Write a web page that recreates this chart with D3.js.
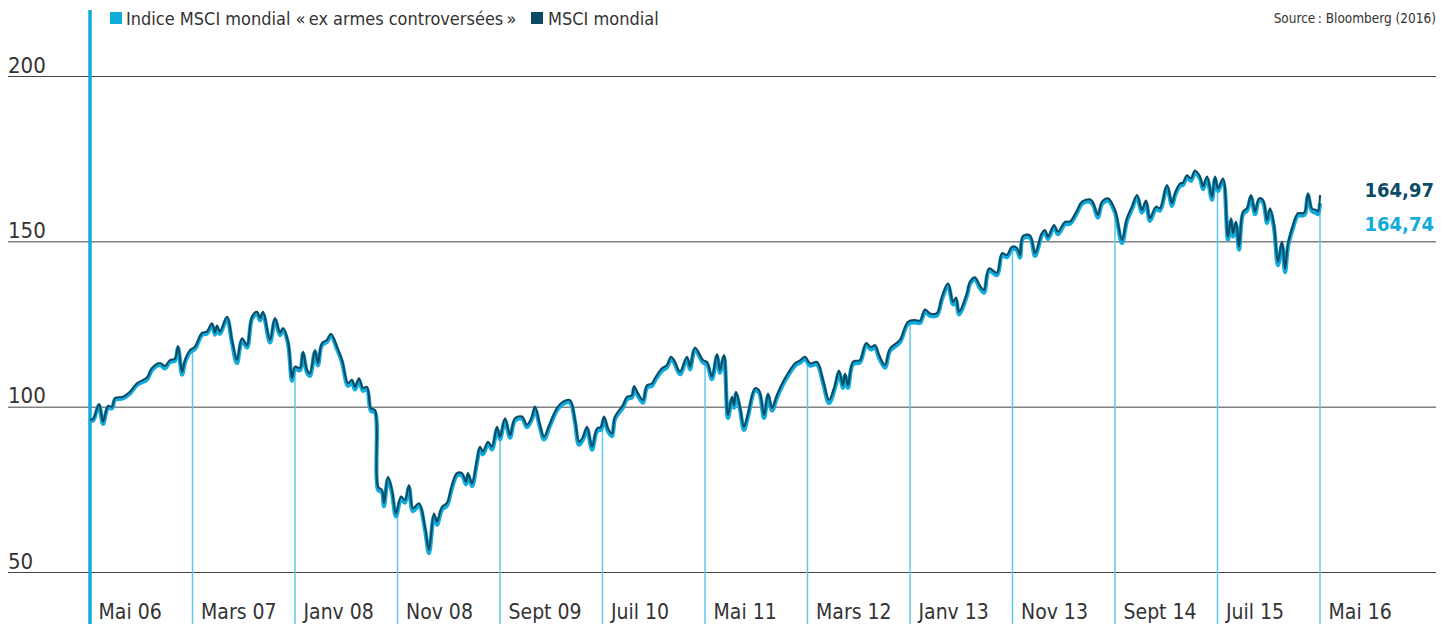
<!DOCTYPE html>
<html>
<head>
<meta charset="utf-8">
<script src="https://cdn.jsdelivr.net/npm/d3@7"></script>
<style>
  html, body { margin: 0; padding: 0; background: #fff; }
  svg { display: block; }
  text { font-family: "DejaVu Sans Condensed", "Liberation Sans Narrow", Roboto, sans-serif; fill: #333; }
</style>
</head>
<body>
<svg id="chart" width="1449" height="624"></svg>
<script>
// ---- DATA ----
// months since May 2006
const months = [0.00,0.29,0.88,1.27,1.76,2.15,2.44,3.22,3.90,4.59,5.56,6.05,6.83,7.32,7.80,8.29,8.59,8.98,9.27,9.76,
10.24,10.93,11.41,11.90,12.20,12.39,12.68,13.37,13.85,14.34,14.83,15.32,15.80,16.29,16.59,16.88,17.56,18.05,18.54,18.83,
19.32,19.71,20.00,20.49,20.78,21.17,21.46,21.95,22.24,22.63,23.12,23.51,24.10,24.59,25.17,25.56,25.85,26.24,26.63,27.02,
27.41,27.80,28.10,28.49,28.68,29.07,29.46,29.85,30.34,30.73,31.12,31.51,32.10,32.68,33.07,33.56,33.85,34.34,34.83,35.32,
35.80,36.29,36.68,36.88,37.27,37.76,38.05,38.34,38.83,39.22,39.71,40.00,40.49,40.98,41.46,42.15,42.63,43.12,43.41,43.90,
44.29,44.88,45.56,46.15,46.83,47.32,47.71,48.10,48.49,48.98,49.46,49.85,50.15,50.54,50.93,51.22,52.00,52.39,52.88,53.07,
53.46,53.95,54.34,54.83,55.12,55.80,56.29,56.68,56.98,57.56,58.24,58.54,59.02,59.80,60.20,60.68,61.17,61.46,61.85,62.24,
62.63,62.83,63.02,63.41,63.80,64.20,64.88,65.27,65.76,66.15,66.54,67.02,67.61,68.10,68.78,69.27,69.76,70.24,70.93,71.51,
72.10,72.68,73.07,73.46,73.66,73.95,74.44,75.12,75.71,76.20,76.59,76.98,77.56,78.05,79.02,79.80,80.49,80.98,81.46,81.95,
82.63,83.12,83.71,84.20,84.49,84.78,85.56,85.85,86.34,86.83,87.22,87.71,88.49,88.98,89.46,89.95,90.44,90.73,91.02,91.71,
92.20,92.88,93.17,93.46,94.05,94.44,95.12,95.61,96.29,96.78,97.56,97.85,98.34,98.73,99.32,100.00,100.68,101.17,101.66,102.15,
102.63,103.02,103.41,104.00,104.39,105.07,105.56,105.85,106.34,106.63,107.02,107.41,107.80,108.29,108.59,108.98,109.46,109.76,110.05,110.54,
111.02,111.32,111.51,111.80,112.10,112.49,112.88,113.27,113.66,114.05,114.44,114.83,115.12,115.51,115.90,116.29,116.59,116.88,117.37,117.85,
118.34,118.54,118.83,119.22,119.61,119.80,120.00];

// MSCI mondial (dark)
const msciWorld = [96.2,96.2,100.8,95.5,100.2,100.0,102.6,103.0,104.5,107.1,108.8,111.7,113.2,112.3,114.1,114.5,118.3,110.6,114.1,117.1,
118.1,122.3,122.7,125.2,122.5,124.5,122.7,127.2,120.2,114.1,120.7,118.6,127.2,128.7,126.8,128.7,120.2,126.8,122.3,123.8,
119.7,108.7,112.1,111.7,116.6,111.1,110.1,117.1,113.2,119.2,120.2,122.0,118.1,114.1,107.1,108.1,106.0,108.6,105.6,106.0,
99.5,99.0,75.8,74.8,70.9,78.8,74.8,67.7,72.8,71.8,76.3,69.3,70.8,63.7,56.7,67.7,65.2,69.7,70.9,76.3,
79.9,79.9,77.3,79.9,76.8,83.9,87.9,86.4,89.4,87.9,93.9,90.9,96.5,91.4,96.5,97.0,94.5,97.0,100.0,94.5,
90.9,95.0,99.6,101.5,102.0,96.0,89.4,90.9,93.9,87.9,93.4,93.9,97.0,93.4,91.9,97.0,100.5,103.0,103.5,106.2,
104.0,102.0,106.5,107.0,108.6,111.6,112.6,115.1,114.1,110.6,115.1,112.1,117.9,114.1,113.5,109.1,115.9,111.1,115.6,97.5,
103.0,100.5,104.5,100.0,93.9,97.9,105.6,105.0,97.5,104.0,99.6,103.5,107.5,110.1,113.1,114.0,115.1,113.1,113.5,108.1,
102.0,106.5,110.9,106.5,110.0,106.5,113.6,114.1,119.2,118.0,118.6,115.6,112.6,117.6,120.2,125.7,126.2,126.0,129.4,128.2,
128.3,133.2,137.3,131.7,133.0,128.7,134.3,137.8,139.1,136.5,135.3,141.8,140.5,146.4,145.9,148.4,148.0,145.9,151.6,151.8,
146.4,152.6,153.4,151.4,154.9,152.9,155.9,156.0,159.3,162.0,162.7,161.8,158.0,162.0,163.0,159.5,150.4,157.0,160.5,164.0,
159.5,162.3,157.0,160.5,160.0,167.0,161.5,164.5,167.5,167.7,170.0,169.0,171.4,169.6,166.6,169.6,163.5,169.6,166.0,169.0,
151.4,157.0,152.4,156.0,148.4,159.0,160.0,164.0,159.0,163.0,162.5,156.4,160.0,154.9,143.8,149.9,141.8,149.4,154.9,158.5,
158.5,159.0,164.5,159.9,159.5,159.0,164.0];

// Indice MSCI mondial « ex armes controversées » (cyan)
const msciExWeapons = [96.0,95.8,100.3,94.8,99.7,99.5,102.1,102.5,104.0,106.6,108.2,111.1,112.6,111.6,113.5,113.9,117.8,109.7,113.4,116.5,
117.5,121.7,122.1,124.6,121.8,123.9,122.0,126.6,119.4,113.2,120.0,117.9,126.5,128.1,126.1,128.1,119.4,126.1,121.6,123.2,
119.0,107.8,111.4,111.0,116.0,110.3,109.3,116.5,112.5,118.6,119.6,121.4,117.4,113.4,106.3,107.4,105.2,107.9,104.8,105.3,
98.7,98.3,74.9,74.0,69.9,78.0,74.0,66.8,72.0,71.0,75.5,68.4,70.0,62.8,55.7,66.9,64.3,68.9,70.1,75.5,
79.2,79.2,76.5,79.2,76.0,83.2,87.2,85.6,88.7,87.1,93.2,90.1,95.8,90.6,95.8,96.3,93.8,96.3,99.3,93.7,
90.1,94.3,98.9,100.8,101.3,95.2,88.5,90.1,93.2,87.0,92.6,93.1,96.3,92.6,91.1,96.3,99.8,102.3,102.8,105.5,
103.3,101.2,105.8,106.3,107.9,110.9,111.9,114.4,113.4,109.8,114.4,111.3,117.2,113.4,112.8,108.3,115.2,110.3,114.9,96.6,
102.2,99.7,103.8,99.2,93.0,97.1,104.9,104.3,96.6,103.2,98.8,102.8,106.8,109.4,112.4,113.3,114.4,112.4,112.8,107.3,
101.1,105.7,110.2,105.7,109.3,105.7,112.9,113.4,118.5,117.3,117.9,114.8,111.8,116.9,119.5,125.0,125.5,125.3,128.7,127.5,
127.6,132.5,136.6,130.9,132.3,127.9,133.6,137.1,138.4,135.8,134.5,141.1,139.8,145.7,145.2,147.7,147.3,145.1,150.9,151.1,
145.6,151.9,152.7,150.7,154.2,152.2,155.2,155.3,158.6,161.3,162.0,161.1,157.2,161.3,162.3,158.7,149.5,156.2,159.8,163.3,
158.7,161.6,156.2,159.8,159.3,166.3,160.7,163.8,166.8,167.0,169.3,168.3,170.7,168.9,165.8,168.9,162.6,168.9,165.2,168.3,
150.5,156.2,151.5,155.2,147.5,158.2,159.3,163.3,158.2,162.3,161.8,155.6,159.2,154.1,142.8,149.0,140.7,148.5,154.1,157.8,
157.8,158.3,163.8,159.1,158.6,158.2,161.5];

const tickMonths = [0,10,20,30,40,50,60,70,80,90,100,110,120];
const tickLabels = ["Mai 06","Mars 07","Janv 08","Nov 08","Sept 09","Juil 10","Mai 11","Mars 12","Janv 13","Nov 13","Sept 14","Juil 15","Mai 16"];
const yTicks = [50,100,150,200];
const seriesNames = ["Indice MSCI mondial «\u202Fex armes controversées\u202F»", "MSCI mondial"];
const endLabels = ["164,97", "164,74"];
const sourceText = "Source\u202F: Bloomberg (2016)";

// ---- CHART ----
const CYAN = "#11ACDC", DARK = "#0B4B66", TICKCYAN = "#62C7EA";
const FONT = '"DejaVu Sans Condensed", "Liberation Sans Narrow", Roboto, sans-serif';
const svg = d3.select("#chart");
const x = d3.scaleLinear().domain([0,120]).range([90,1320]);
const y = d3.scaleLinear().domain([50,200]).range([572,76]);

// gridlines + y labels
const yAxis = d3.axisRight(y).tickValues(yTicks).tickSize(1428).tickFormat(d3.format("d"));
const gy = svg.append("g").attr("transform","translate(8,0)").call(yAxis);
gy.select(".domain").remove();
gy.selectAll(".tick line").attr("stroke","#444").attr("stroke-width",1);
gy.selectAll(".tick text").attr("x",0).attr("dy",-4).attr("text-anchor","start")
  .attr("font-size",22).attr("fill","#333").style("font-family",FONT);

// vertical tick lines up to the curve
const bis = d3.bisector(d => d).left;
function interp(arr, m){
  let i = bis(months, m);
  if (i <= 0) return arr[0];
  if (i >= months.length) return arr[arr.length-1];
  const t0 = months[i-1], t1 = months[i];
  const f = (m - t0)/(t1 - t0);
  return arr[i-1] + f*(arr[i]-arr[i-1]);
}
svg.append("g").selectAll("line").data(tickMonths.slice(1)).join("line")
  .attr("x1", d => x(d)).attr("x2", d => x(d))
  .attr("y1", 624).attr("y2", d => y(interp(msciExWeapons, d)))
  .attr("stroke", TICKCYAN).attr("stroke-width", 1.5);

// x axis labels
const xAxis = d3.axisBottom(x).tickValues(tickMonths).tickFormat((d,i)=>tickLabels[i]).tickSize(0);
const gx = svg.append("g").attr("transform","translate(0,602)").call(xAxis);
gx.select(".domain").remove();
gx.selectAll(".tick text").attr("x",8).attr("y",0).attr("dy","0.8em").attr("text-anchor","start")
  .attr("font-size",21).attr("fill","#333").style("font-family",FONT);

// thick main axis
svg.append("line").attr("x1",x(0)).attr("x2",x(0)).attr("y1",10).attr("y2",624)
  .attr("stroke",CYAN).attr("stroke-width",3.5);

// lines
const line = arr => d3.line().x((d,i)=>x(months[i])).y(d=>y(d)).curve(d3.curveCatmullRom.alpha(0.5))(arr);
svg.append("path").attr("d", line(msciExWeapons)).attr("fill","none")
  .attr("stroke",CYAN).attr("stroke-width",4.2).attr("stroke-linejoin","round");
svg.append("path").attr("d", line(msciWorld)).attr("fill","none")
  .attr("stroke",DARK).attr("stroke-width",2.1).attr("stroke-linejoin","round");

// legend
const lg = svg.append("g");
lg.append("rect").attr("x",110).attr("y",12).attr("width",12).attr("height",12).attr("fill",CYAN);
lg.append("text").attr("x",126).attr("y",25).attr("font-size",18).text(seriesNames[0]);
lg.append("rect").attr("x",531).attr("y",12).attr("width",12).attr("height",12).attr("fill",DARK);
lg.append("text").attr("x",548).attr("y",25).attr("font-size",18).text(seriesNames[1]);

// source
svg.append("text").attr("x",1436).attr("y",23).attr("text-anchor","end").attr("font-size",13.5).text(sourceText);

// end labels
svg.append("text").attr("x",1434).attr("y",197).attr("text-anchor","end").attr("font-size",20)
  .attr("font-weight","bold").style("fill",DARK).text(endLabels[0]);
svg.append("text").attr("x",1434).attr("y",231).attr("text-anchor","end").attr("font-size",20)
  .attr("font-weight","bold").style("fill",CYAN).text(endLabels[1]);
</script>
</body>
</html>
